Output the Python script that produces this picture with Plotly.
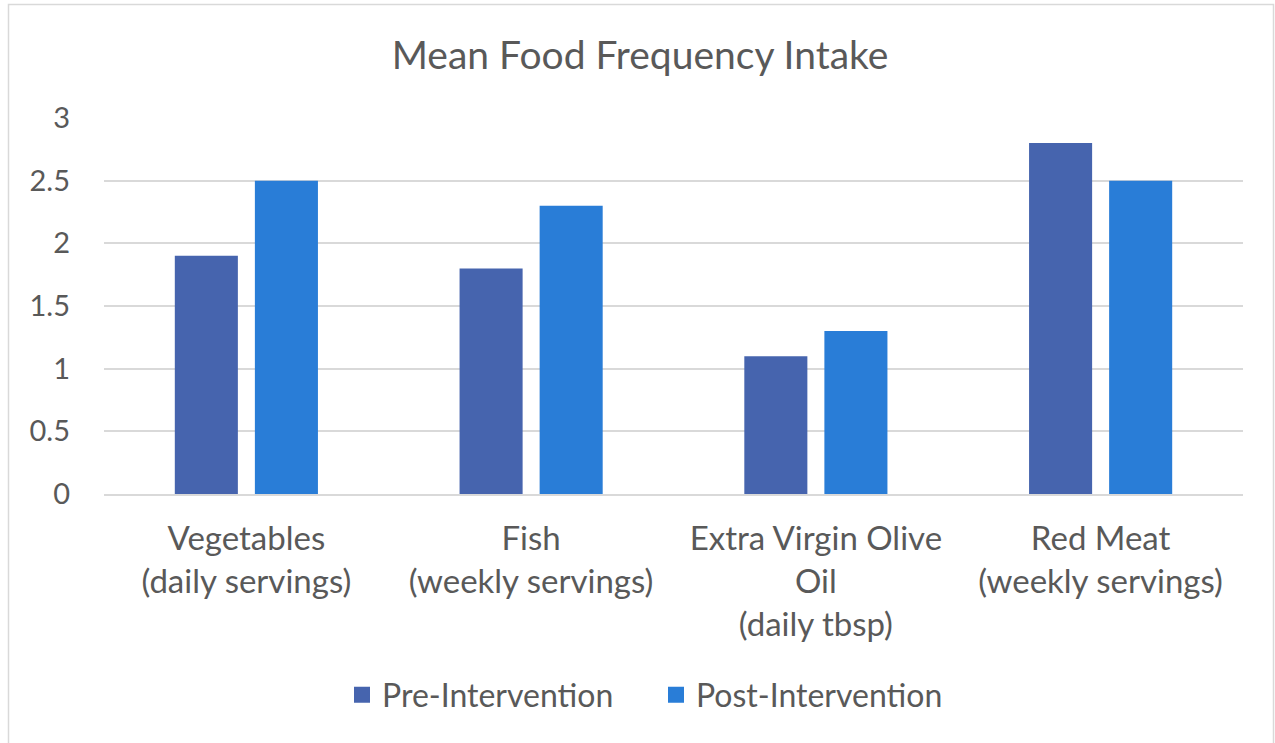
import plotly.graph_objects as go

categories = ["Vegetables<br>(daily servings)", "Fish<br>(weekly servings)",
              "Extra Virgin Olive<br>Oil<br>(daily tbsp)", "Red Meat<br>(weekly servings)"]
pre_values = [1.9, 1.8, 1.1, 2.8]
post_values = [2.5, 2.3, 1.3, 2.5]
series_names = ["Pre-Intervention", "Post-Intervention"]
series_colors = ["#4664AE", "#297DD7"]
y_ticks = [0, 0.5, 1, 1.5, 2, 2.5, 3]
y_tick_labels = ["0", "0.5", "1", "1.5", "2", "2.5", "3"]

FONT = "Lato"
GREY = "#595959"

fig = go.Figure()
for name, vals, col in zip(series_names, [pre_values, post_values], series_colors):
    fig.add_trace(go.Bar(x=categories, y=vals, name=name, showlegend=False,
                         marker=dict(color=col, line=dict(width=0))))
# legend entries with larger square swatches
for name, col in zip(series_names, series_colors):
    fig.add_trace(go.Scatter(x=[None], y=[None], mode="markers", name=name,
                             marker=dict(symbol="square", size=16, color=col),
                             hoverinfo="skip"))

L, R, T, B = 104, 32, 118, 249
W, H = 1275, 743
pw, ph = W - L - R, H - T - B

def px_x(p):
    return (p - L) / pw

def px_y(p):
    return (H - B - p) / ph

fig.update_layout(
    width=W, height=H,
    margin=dict(l=L, r=R, t=T, b=B, autoexpand=False),
    paper_bgcolor="white", plot_bgcolor="white",
    barmode="group", bargap=0.4376, bargroupgap=0.2125,
    font=dict(family=FONT, color=GREY, size=28),
    title=dict(text="Mean Food Frequency Intake", x=0.502, xanchor="center",
               y=1 - 55 / H, yanchor="middle",
               font=dict(family=FONT, size=39, color=GREY)),
    showlegend=True,
    legend=dict(orientation="h", x=px_x(656), xanchor="center", y=px_y(695), yanchor="middle",
                font=dict(family=FONT, size=32, color=GREY), itemwidth=30,
                entrywidth=269, entrywidthmode="pixels",
                traceorder="normal"),
    xaxis=dict(showgrid=False, showline=True, linecolor="#D9D9D9", linewidth=1.5,
               ticks="", ticklabelstandoff=15, tickfont=dict(size=33, color=GREY)),
    yaxis=dict(range=[0, 3], tickvals=y_ticks, ticktext=y_tick_labels,
               showgrid=True, gridcolor="#D9D9D9", gridwidth=1.5,
               zeroline=False, showline=False, ticks="", ticklabelstandoff=33,
               tickfont=dict(size=29, color=GREY)),
    shapes=[dict(type="rect", xref="paper", yref="paper",
                 x0=px_x(8.5), x1=px_x(1273.5), y0=px_y(760), y1=px_y(4.5),
                 line=dict(color="#D9D9D9", width=1.5), fillcolor="rgba(0,0,0,0)",
                 layer="below")],
)

fig.write_html("out.html", config={"displayModeBar": False},
               post_script="document.body.style.margin='0';")
